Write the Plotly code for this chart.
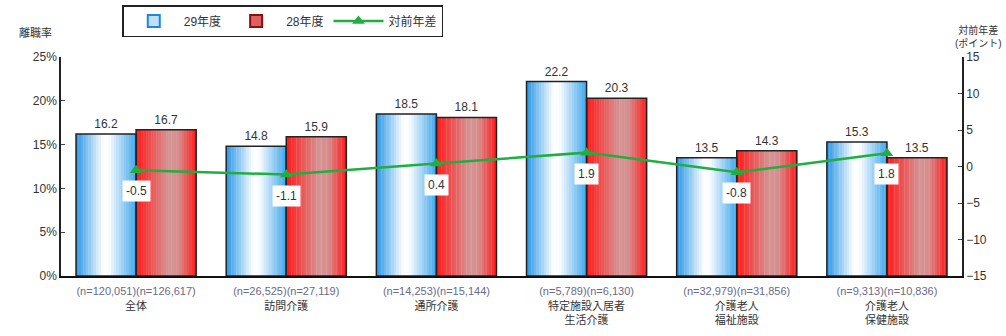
import plotly.graph_objects as go

categories = ["全体", "訪問介護", "通所介護", "特定施設入居者<br>生活介護", "介護老人<br>福祉施設", "介護老人<br>保健施設"]
n_29 = ["120,051", "26,525", "14,253", "5,789", "32,979", "9,313"]
n_28 = ["126,617", "27,119", "15,144", "6,130", "31,856", "10,836"]
rate_29 = [16.2, 14.8, 18.5, 22.2, 13.5, 15.3]
rate_28 = [16.7, 15.9, 18.1, 20.3, 14.3, 13.5]
diff = [-0.5, -1.1, 0.4, 1.9, -0.8, 1.8]
left_ticks = [0, 5, 10, 15, 20, 25]
right_ticks = [-15, -10, -5, 0, 5, 10, 15]

xs = list(range(len(categories)))
ticktext = [
    f"<span style='color:#6a6a86'>(n={a})(n={b})</span><br>{c}"
    for a, b, c in zip(n_29, n_28, categories)
]

def lerp(c1, c2, t):
    return tuple(round(a + (b - a) * t) for a, b in zip(c1, c2))

def grad(stops, t):
    for (t0, c0), (t1, c1) in zip(stops, stops[1:]):
        if t0 <= t <= t1:
            return lerp(c0, c1, (t - t0) / (t1 - t0) if t1 > t0 else 0)
    return stops[-1][1]

blue_stops = [(0.0, (40, 150, 230)), (0.45, (255, 255, 255)), (0.55, (250, 252, 255)), (1.0, (60, 165, 235))]
red_stops = [(0.0, (255, 25, 25)), (0.55, (212, 150, 150)), (0.7, (215, 140, 140)), (1.0, (255, 25, 25))]

fig = go.Figure()
N = 24
bw = 0.4
for series, stops, base_off in [(rate_29, blue_stops, -bw), (rate_28, red_stops, 0.0)]:
    for i in range(N):
        t = (i + 0.5) / N
        r, g, b = grad(stops, t)
        fig.add_trace(go.Bar(
            x=xs, y=series, width=bw / N + 0.002, offset=base_off + i * bw / N,
            marker=dict(color=f"rgb({r},{g},{b})", line=dict(width=0)),
            showlegend=False, hoverinfo="skip",
        ))

fig.add_trace(go.Bar(
    x=xs, y=rate_29, width=bw, offset=-bw, name="29年度",
    marker=dict(color="rgba(0,0,0,0)", line=dict(color="#222", width=1.5)),
    text=[f"{v:.1f}" for v in rate_29], textposition="outside",
    textfont=dict(size=12, color="#333"), cliponaxis=False, showlegend=False,
))
fig.add_trace(go.Bar(
    x=xs, y=rate_28, width=bw, offset=0.0, name="28年度",
    marker=dict(color="rgba(0,0,0,0)", line=dict(color="#222", width=1.5)),
    text=[f"{v:.1f}" for v in rate_28], textposition="outside",
    textfont=dict(size=12, color="#333"), cliponaxis=False, showlegend=False,
))

# legend proxies
fig.add_trace(go.Bar(x=[None], y=[None], name="29年度",
                     marker=dict(color="#bfe0f8", line=dict(color="#1e88d8", width=2))))
fig.add_trace(go.Bar(x=[None], y=[None], name="28年度",
                     marker=dict(color="#e06060", line=dict(color="#8a1010", width=2))))

fig.add_trace(go.Scatter(
    x=xs, y=diff, yaxis="y2", mode="lines+markers", name="対前年差",
    line=dict(color="#1fae3f", width=2.5),
    marker=dict(symbol="triangle-up", size=11, color="#1fae3f"),
))

for x, d in zip(xs, diff):
    fig.add_annotation(x=x, y=d, yref="y2", text=f"{d:.1f}", showarrow=False,
                       yshift=-21, bgcolor="white", font=dict(size=12, color="#333"),
                       borderpad=3)

fig.add_annotation(x=0, y=1.0, xref="paper", yref="paper", xanchor="center", yanchor="bottom",
                   xshift=-26, yshift=16, text="離職率", showarrow=False, font=dict(size=11, color="#333"))
fig.add_annotation(x=1.0, y=1.0, xref="paper", yref="paper", xanchor="right", yanchor="bottom",
                   xshift=42, yshift=6, text="対前年差<br>(ポイント)", showarrow=False,
                   font=dict(size=10, color="#333"), align="center")

fig.update_layout(
    width=1006, height=336,
    margin=dict(l=61, r=44, t=57, b=60),
    paper_bgcolor="white", plot_bgcolor="white",
    barmode="overlay", bargap=0.2,
    font=dict(family="Liberation Sans, Noto Sans CJK JP, sans-serif", size=12, color="#333"),
    xaxis=dict(tickmode="array", tickvals=xs, ticktext=ticktext, range=[-0.5, 5.5],
               showline=True, linecolor="#111", linewidth=2, ticks="", tickfont=dict(size=11),
               ticklabelstandoff=4, automargin=False),
    yaxis=dict(range=[0, 25], tickvals=left_ticks, ticktext=[f"{v}%" for v in left_ticks],
               showline=True, linecolor="#222", linewidth=1.5, ticks="inside", ticklen=4,
               showgrid=False, zeroline=False, tickfont=dict(size=12), automargin=False),
    yaxis2=dict(range=[-15, 15], tickvals=right_ticks, overlaying="y", side="right",
                showline=True, linecolor="#222", linewidth=1.5, ticks="inside", ticklen=4,
                showgrid=False, zeroline=False, tickfont=dict(size=12), automargin=False),
    legend=dict(orientation="h", x=0.068, xanchor="left", y=0.985, yanchor="top", yref="container",
                bordercolor="#222", borderwidth=1.5, font=dict(size=12),
                traceorder="normal", itemwidth=50),
)

fig.write_html("out.html")
